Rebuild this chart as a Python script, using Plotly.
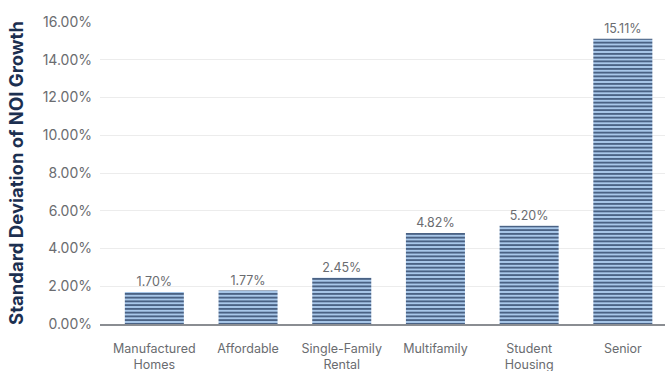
import plotly.graph_objects as go

categories = ["Manufactured<br>Homes", "Affordable", "Single-Family<br>Rental",
              "Multifamily", "Student<br>Housing", "Senior"]
std_dev_pct = [1.70, 1.77, 2.45, 4.82, 5.20, 15.11]
y_ticks = [0, 2, 4, 6, 8, 10, 12, 14, 16]

NAVY = "#1c2f50"
STRIPE = "#384e70"
LIGHT = "#a9c8ea"
GRAY_TEXT = "#6a6c70"

fig = go.Figure(
    go.Bar(
        x=categories,
        y=std_dev_pct,
        width=0.63,
        marker=dict(
            color=LIGHT,
            line=dict(width=0),
            pattern=dict(shape="-", fgcolor=STRIPE, bgcolor=LIGHT,
                         size=3.75, solidity=0.42, fillmode="replace"),
        ),
        text=[f"{v:.2f}%" for v in std_dev_pct],
        textposition="outside",
        textfont=dict(family="Inter", size=12.5, color=GRAY_TEXT),
        cliponaxis=False,
    )
)

fig.update_layout(
    width=665, height=371,
    margin=dict(l=100, r=0, t=22, b=47),
    paper_bgcolor="white", plot_bgcolor="white",
    showlegend=False,
    bargap=0.37,
    font=dict(family="Inter", color=GRAY_TEXT),
)

fig.update_xaxes(
    range=[-0.58, 5.45],
    automargin=False,
    showline=True, linecolor="#8a8d92", linewidth=2,
    showgrid=False, ticks="",
    ticklabelstandoff=12,
    tickfont=dict(family="Inter", size=12.5, color=GRAY_TEXT),
)

fig.update_yaxes(
    range=[0, 16],
    automargin=False,
    tickvals=y_ticks,
    ticktext=[f"{v:.2f}%" for v in y_ticks],
    showgrid=True, gridcolor="#ececec", gridwidth=1,
    zeroline=False, showline=False, ticks="",
    ticklabelstandoff=7,
    tickfont=dict(family="Inter", size=14, color=GRAY_TEXT),
    title=dict(text="<b>Standard Deviation of NOI Growth</b>",
               font=dict(family="Inter", size=18.5, color=NAVY), standoff=14),
)

fig.write_html("out.html")
